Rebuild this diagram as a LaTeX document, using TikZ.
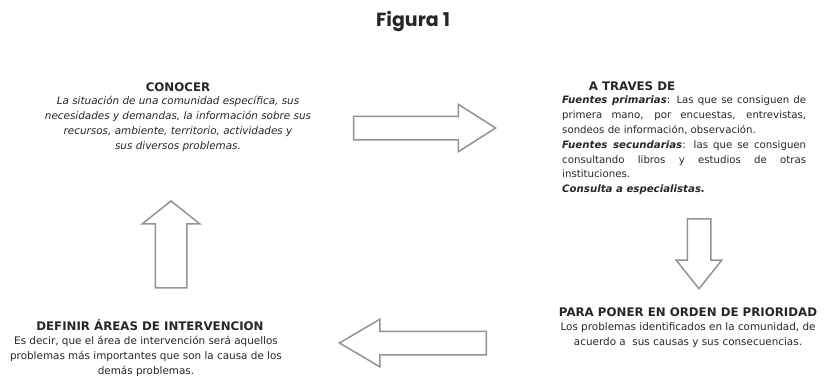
\documentclass[tikz,border=0pt]{standalone}
\usepackage{fontspec}
\setmainfont{DejaVu Sans}
\newfontfamily\figfont{Poppins}
\usetikzlibrary{shapes.arrows,positioning}
\setlength{\parindent}{0pt}

\begin{document}
\begin{tikzpicture}[x=1pt, y=-1pt,
    title/.style={font=\bfseries\fontsize{11.8}{13}\selectfont, text=black!85, inner sep=0pt},
    body/.style={font=\itshape\fontsize{10.4}{15}\selectfont, text=black!85, inner sep=0pt, align=center},
    plain/.style={font=\fontsize{10.4}{15}\selectfont, text=black!85, inner sep=0pt, align=center},
    blockarrow/.style={single arrow, draw=gray!85, fill=white, line width=1.5pt, inner sep=11pt, single arrow head extend=12pt}
]
\useasboundingbox (0,0) rectangle (827,386);

\node[font=\figfont\bfseries\fontsize{19}{22}\selectfont, text=black!85] (fig) at (413,22) {Figura 1};

% text blocks
\node[title] (conocer) at (178,87) {CONOCER};
\node[body, below=4pt of conocer] (conocertxt) {La situación de una comunidad específica, sus\\necesidades y demandas, la información sobre sus\\recursos, ambiente, territorio, actividades y\\sus diversos problemas.};

\node[title] (traves) at (632,86) {A TRAVES DE};
\node[plain, font=\fontsize{10.2}{14.8}\selectfont, text width=244pt, align=justify, anchor=north west] (fuentes) at (562,96) {\hyphenpenalty=10000
{\bfseries\itshape Fuentes primarias}: Las que se consiguen de\linebreak primera mano, por encuestas, entrevistas,\linebreak sondeos de información, observación.\par
{\bfseries\itshape Fuentes secundarias}: las que se consiguen\linebreak consultando libros y estudios de otras\linebreak instituciones.\par
{\bfseries\itshape Consulta a especialistas.}};

\node[title] (para) at (688,312) {PARA PONER EN ORDEN DE PRIORIDAD};
\node[plain, below=6pt of para] (paratxt) {Los problemas identificados en la comunidad, de\\acuerdo a \ sus causas y sus consecuencias.};

\node[title] (definir) at (150,325) {DEFINIR ÁREAS DE INTERVENCION};
\node[plain, below=5pt of definir, xshift=-4pt] (definirtxt) {Es decir, que el área de intervención será aquellos\\problemas más importantes que son la causa de los\\demás problemas.};

% block arrows
\node[blockarrow, minimum height=142pt, single arrow tip angle=65, anchor=tip] (arrA) at (497,128) {};
\node[blockarrow, minimum height=70pt, single arrow head extend=11pt, single arrow tip angle=77, rotate=-90, anchor=tip] (arrB) at (699,290) {};
\node[blockarrow, minimum height=147pt, single arrow tip angle=61, rotate=180, anchor=tip] (arrC) at (338,343) {};
\node[blockarrow, minimum height=87pt, inner sep=15pt, single arrow head extend=13pt, single arrow tip angle=103, rotate=90, anchor=tip] (arrD) at (171,200) {};

\end{tikzpicture}
\end{document}
